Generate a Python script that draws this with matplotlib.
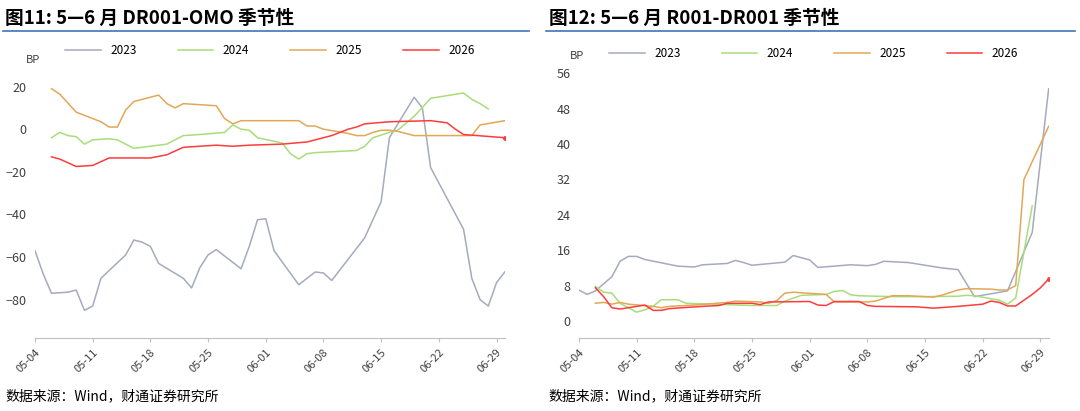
import matplotlib
matplotlib.use("Agg")
import matplotlib.pyplot as plt

plt.rcParams['font.family'] = ['Noto Sans CJK SC', 'DejaVu Sans']

tick_days = [0, 7, 14, 21, 28, 35, 42, 49, 56]
tick_labels = ["05-04", "05-11", "05-18", "05-25", "06-01", "06-08", "06-15", "06-22", "06-29"]
years = ["2023", "2024", "2025", "2026"]
colors = ["#a5abbd", "#a9dd7a", "#e0a857", "#ff3b3b"]

# chart 1: DR001-OMO (BP), x = days since 05-04
l23_d = [0, 1, 2, 4, 5, 6, 7, 8, 11, 12, 13, 14, 15, 18, 19, 20, 21, 22, 25, 26, 27, 28, 29, 32, 34, 35, 36, 40, 42, 43, 46, 47, 48, 52, 53, 54, 55, 56, 57]
l23_v = [-57, -68, -77, -76.5, -75.5, -85, -83, -70, -59, -52, -53, -55, -63, -70, -74.5, -65, -59, -56.5, -65.5, -55, -42.5, -42, -57, -73, -67, -67.5, -71, -51, -34, -4, 15, 10, -18, -47, -70, -80, -83, -72, -67]
l24_d = [2, 3, 4, 5, 6, 7, 9, 10, 12, 16, 17, 18, 20, 23, 24, 25, 26, 27, 30, 31, 32, 33, 34, 39, 40, 41, 43, 44, 46, 48, 52, 53, 54, 55]
l24_v = [-4, -1.5, -3, -3.5, -7, -5, -4.5, -5, -9, -7, -5, -3, -2.5, -1.5, 2, 0, -0.5, -4, -6.5, -11.5, -14, -11.5, -11, -10, -8, -4, -1.5, -0.5, 6, 14.5, 17, 14, 12, 9.5]
l25_d = [2, 3, 5, 8, 9, 10, 11, 12, 15, 16, 17, 18, 22, 23, 24, 25, 32, 33, 34, 35, 38, 39, 40, 41, 42, 43, 44, 45, 46, 53, 54, 57]
l25_v = [19, 16.5, 8, 3.5, 1, 1, 9, 13, 16, 12, 10, 12, 11, 5, 2.5, 4, 4, 1.5, 1.5, 0, -2, -3, -3, -1.5, -0.5, -0.5, -1, -2, -3, -3, 2, 4]
l26_d = [2, 3, 5, 7, 9, 14, 16, 18, 20, 22, 24, 26, 30, 33, 36, 38, 39, 40, 43, 48, 50, 51, 52, 57]
l26_v = [-13, -14, -17.5, -17, -13.5, -13.5, -12, -8.5, -8, -7.5, -8, -7.5, -7, -6, -3, 0, 1, 2.5, 3.5, 4, 3, 0, -2.5, -4]

# chart 2: R001-DR001 (BP)
r23_d = [0, 1, 2, 4, 5, 6, 7, 8, 12, 14, 15, 18, 19, 20, 21, 25, 26, 28, 29, 33, 35, 36, 37, 40, 42, 44, 46, 48, 52, 55, 57]
r23_v = [7, 6, 6.8, 10, 13.5, 14.6, 14.6, 13.9, 12.4, 12.2, 12.7, 13, 13.7, 13.2, 12.6, 13.3, 14.8, 13.8, 12.1, 12.7, 12.5, 12.8, 13.5, 13.2, 12.6, 12, 11.6, 5.5, 6.8, 20, 52.5]
r24_d = [2, 3, 4, 5, 7, 8, 9, 10, 12, 13, 21, 24, 25, 27, 30, 31, 32, 33, 34, 38, 42, 46, 47, 48, 51, 52, 53, 55]
r24_v = [7.8, 6.5, 6.3, 4, 2, 2.5, 3.3, 4.8, 4.8, 4, 3.5, 3.5, 4.5, 5.8, 6, 6.7, 6.9, 5.9, 5.7, 5.5, 5.5, 5.6, 5.8, 5.7, 4.7, 3.8, 5.2, 26]
r25_d = [2, 3, 4, 5, 6, 9, 10, 11, 14, 18, 19, 22, 23, 24, 25, 26, 30, 31, 35, 36, 38, 40, 42, 43, 44, 46, 47, 50, 51, 52, 53, 54, 55, 57]
r25_v = [4, 4.2, 3.8, 4.2, 3.8, 3.3, 3, 3.3, 3.6, 4.2, 4.5, 4.3, 4, 4.6, 6.3, 6.5, 6, 4.3, 4.3, 4.5, 5.7, 5.7, 5.5, 5.4, 5.8, 7, 7.3, 7.2, 7, 7, 8, 32, 36, 44]
r26_d = [2, 3, 4, 5, 6, 7, 8, 9, 10, 11, 15, 17, 18, 21, 22, 23, 28, 29, 30, 31, 34, 35, 36, 41, 43, 46, 49, 50, 51, 52, 53, 55, 56, 57]
r26_v = [7.5, 5.5, 3, 2.7, 3, 3.3, 3.6, 2.4, 2.4, 2.8, 3.3, 3.5, 4, 4, 3.7, 4.3, 4.4, 3.6, 3.5, 4.4, 4.4, 3.5, 3.3, 3.2, 2.9, 3.3, 3.8, 4.5, 4.2, 3.4, 3.4, 6, 7.5, 9.5]


def draw(ax, series, ylim, yticks, leg_y):
    for (d, v), c, y in zip(series, colors, years):
        ax.plot(d, v, color=c, lw=1.1, label=y)
    ax.plot(series[3][0][-1], series[3][1][-1], 'o', color=colors[3], ms=2.5)
    ax.set_xlim(0, 57)
    ax.set_ylim(*ylim)
    ax.set_yticks(yticks)
    ax.set_xticks(tick_days)
    ax.set_xticklabels(tick_labels, rotation=45, ha='right', rotation_mode='anchor')
    for s in ['top', 'right', 'left']:
        ax.spines[s].set_visible(False)
    ax.spines['bottom'].set_color('#bfbfbf')
    ax.tick_params(axis='x', colors='#bfbfbf', labelcolor='#404040', labelsize=8, length=3)
    ax.tick_params(axis='y', length=0, labelsize=9, labelcolor='#404040', pad=6)
    ax.text(-0.02, 1.0, "BP", transform=ax.transAxes, fontsize=8, color='#404040', va='top')
    ax.legend(loc='upper center', bbox_to_anchor=(0.5, leg_y), ncol=4, frameon=False,
              fontsize=8.5, handlelength=3, columnspacing=3.5)


fig = plt.figure(figsize=(10.8, 4.11), dpi=100)
ax1 = fig.add_axes([0.0324, 0.1776, 0.435, 0.6895])
ax2 = fig.add_axes([0.536, 0.1776, 0.435, 0.698])
draw(ax1, [(l23_d, l23_v), (l24_d, l24_v), (l25_d, l25_v), (l26_d, l26_v)], (-98, 35), [-80, -60, -40, -20, 0, 20], 1.075)
draw(ax2, [(r23_d, r23_v), (r24_d, r24_v), (r25_d, r25_v), (r26_d, r26_v)], (-3.85, 61), [0, 8, 16, 24, 32, 40, 48, 56], 1.05)

fig.text(0.005, 0.955, "图11: 5—6 月 DR001-OMO 季节性", fontsize=13.5, fontweight='bold', va='center')
fig.text(0.508, 0.955, "图12: 5—6 月 R001-DR001 季节性", fontsize=13.5, fontweight='bold', va='center')
fig.add_artist(plt.Line2D([0.003, 0.49], [0.925, 0.925], color='#3f73b8', lw=1.2))
fig.add_artist(plt.Line2D([0.506, 0.995], [0.925, 0.925], color='#3f73b8', lw=1.2))
fig.text(0.005, 0.035, "数据来源：Wind，财通证券研究所", fontsize=10, va='center')
fig.text(0.508, 0.035, "数据来源：Wind，财通证券研究所", fontsize=10, va='center')

fig.savefig("out.png", dpi=100)
